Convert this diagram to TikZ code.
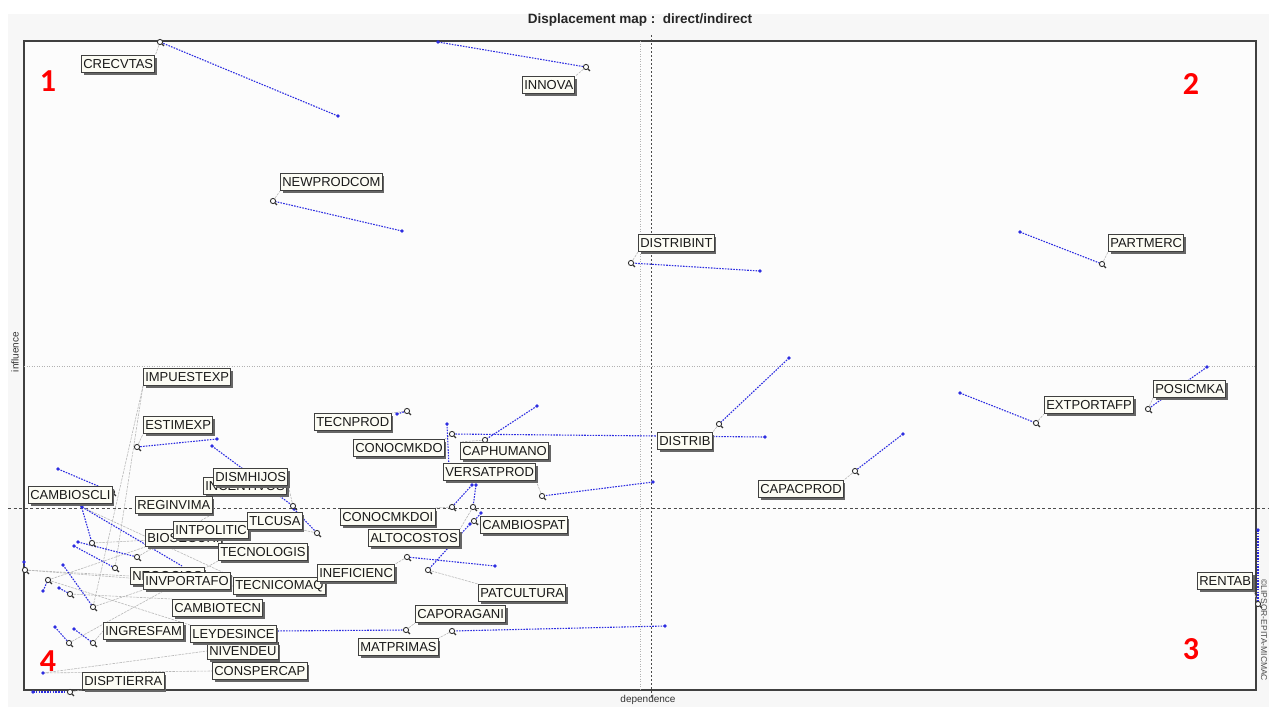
\documentclass[tikz,border=0pt]{standalone}
\usepackage{fontspec}
\setmainfont{Liberation Sans}
\newfontfamily\numfont{Carlito}
\usetikzlibrary{shadows,calc}
\definecolor{lineblue}{RGB}{45,45,225}
\definecolor{boxfill}{RGB}{252,252,244}
\definecolor{plotbg}{RGB}{252,252,252}
\definecolor{outerbg}{RGB}{247,247,247}
\pgfdeclarelayer{bg}
\pgfdeclarelayer{back}
\pgfdeclarelayer{mid}
\pgfsetlayers{bg,back,mid,main}

\tikzset{
  varlabel/.style={draw=black!75, line width=1pt, fill=boxfill, text=black!90,
    font=\fontsize{13}{13}\selectfont, inner xsep=1.8pt, inner ysep=0pt,
    minimum height=17pt, anchor=west,
    drop shadow={shadow xshift=2pt, shadow yshift=-2pt, fill=black!60, opacity=1}},
  shiftline/.style={draw=lineblue, line width=1.1pt, dash pattern=on 1.6pt off 1.2pt},
  leader/.style={draw=black!28, line width=0.6pt, dash pattern=on 2.5pt off 1pt},
  quadnum/.style={text=red, font=\numfont\bfseries\fontsize{32}{32}\selectfont},
  darkguide/.style={draw=black!70, line width=1pt, dash pattern=on 2pt off 2pt},
  lightguide/.style={draw=black!30, line width=0.6pt, dash pattern=on 1pt off 1.5pt}
}

% direct position (dot) -> indirect position (marker)
\newcommand\shiftvar[3]{%
  \coordinate (#1-d) at (#2);
  \coordinate (#1-i) at (#3);
  \draw[shiftline] (#1-d) -- (#1-i);
  \fill[lineblue] (#1-d) circle (1.8);
}
\newcommand\qmark[1]{%
  \draw[black!80, line width=0.9pt, fill=white] (#1) circle (2.6);
  \draw[black!80, line width=1.3pt] ($(#1)+(1.9,1.9)$) -- ++(2,2);
}

\begin{document}
\begin{tikzpicture}[x=1pt,y=-1pt]
\useasboundingbox (0,0) rectangle (1269,707);

% ---------- frame, guides, axis titles ----------
\begin{pgfonlayer}{bg}
  \fill[white] (0,0) rectangle (1269,707);
  \fill[outerbg] (8,14) rectangle (1269,707);
  \draw[black!75, line width=1.5pt, fill=plotbg] (24,41) rectangle (1256,690);
  \draw[lightguide] (640,41) -- (640,690);
  \draw[lightguide] (24,366) -- (1256,366);
  \draw[darkguide] (651,35) -- (651,697);
  \draw[darkguide, dash pattern=on 3pt off 2.5pt] (8,508) -- (1269,508);
\end{pgfonlayer}

\node[font=\bfseries\fontsize{13.5}{13.5}\selectfont, text=black!85] (title) at (640,20) {Displacement map :\ \ direct/indirect};
\node[font=\fontsize{10}{10}\selectfont, text=black!80] (xlab) at (648,700) {dependence};
\node[font=\fontsize{10}{10}\selectfont, text=black!80, rotate=90] (ylab) at (15,352) {influence};
\node[font=\fontsize{8.5}{8.5}\selectfont, text=black!70, rotate=-90, anchor=west] (copy) at (1264,576) {\copyright LIPSOR-EPITA-MICMAC};

\node[quadnum] (q1) at (48,81) {1};
\node[quadnum] (q2) at (1191,84) {2};
\node[quadnum] (q3) at (1191,649) {3};
\node[quadnum] (q4) at (48,661) {4};

% ---------- variable labels ----------
\node[varlabel] (L-CRECVTAS) at (81,64) {CRECVTAS};
\node[varlabel] (L-INNOVA) at (522,85) {INNOVA};
\node[varlabel] (L-NEWPRODCOM) at (280,182) {NEWPRODCOM};
\node[varlabel] (L-DISTRIBINT) at (638,243) {DISTRIBINT};
\node[varlabel] (L-PARTMERC) at (1108,243) {PARTMERC};
\node[varlabel] (L-IMPUESTEXP) at (143,377) {IMPUESTEXP};
\node[varlabel] (L-ESTIMEXP) at (143,425) {ESTIMEXP};
\node[varlabel] (L-TECNPROD) at (314,422) {TECNPROD};
\node[varlabel] (L-CONOCMKDO) at (353,448) {CONOCMKDO};
\node[varlabel] (L-CAPHUMANO) at (460,451) {CAPHUMANO};
\node[varlabel] (L-DISTRIB) at (657,441) {DISTRIB};
\node[varlabel] (L-VERSATPROD) at (443,472) {VERSATPROD};
\node[varlabel] (L-INCENTIVOS) at (203,486) {INCENTIVOS};
\node[varlabel] (L-DISMHIJOS) at (213,477) {DISMHIJOS};
\node[varlabel] (L-CAMBIOSCLI) at (28,495) {CAMBIOSCLI};
\node[varlabel] (L-REGINVIMA) at (135,505) {REGINVIMA};
\node[varlabel] (L-BIOSEGURI) at (145,538) {BIOSEGURI};
\node[varlabel] (L-INTPOLITIC) at (173,530) {INTPOLITIC};
\node[varlabel] (L-TLCUSA) at (247,521) {TLCUSA};
\node[varlabel] (L-TECNOLOGIS) at (218,552) {TECNOLOGIS};
\node[varlabel] (L-NEGOCIOS) at (130,576) {NEGOCIOS};
\node[varlabel] (L-INVPORTAFO) at (143,581) {INVPORTAFO};
\node[varlabel] (L-TECNICOMAQ) at (233,586) {TECNICOMAQ};
\node[varlabel] (L-INEFICIENC) at (317,573) {INEFICIENC};
\node[varlabel] (L-CAMBIOTECN) at (172,608) {CAMBIOTECN};
\node[varlabel] (L-INGRESFAM) at (103,631) {INGRESFAM};
\node[varlabel] (L-NIVENDEU) at (207,651) {NIVENDEU};
\node[varlabel] (L-LEYDESINCE) at (190,634) {LEYDESINCE};
\node[varlabel] (L-CONSPERCAP) at (212,671) {CONSPERCAP};
\node[varlabel] (L-DISPTIERRA) at (82,681) {DISPTIERRA};
\node[varlabel] (L-CONOCMKDOI) at (340,517) {CONOCMKDOI};
\node[varlabel] (L-ALTOCOSTOS) at (368,538) {ALTOCOSTOS};
\node[varlabel] (L-CAMBIOSPAT) at (480,525) {CAMBIOSPAT};
\node[varlabel] (L-PATCULTURA) at (478,593) {PATCULTURA};
\node[varlabel] (L-CAPORAGANI) at (415,614) {CAPORAGANI};
\node[varlabel] (L-MATPRIMAS) at (358,647) {MATPRIMAS};
\node[varlabel] (L-CAPACPROD) at (758,489) {CAPACPROD};
\node[varlabel] (L-EXTPORTAFP) at (1044,405) {EXTPORTAFP};
\node[varlabel] (L-POSICMKA) at (1153,389) {POSICMKA};
\node[varlabel] (L-RENTAB) at (1197,581) {RENTAB};

% ---------- displacements: direct -> indirect ----------
\begin{pgfonlayer}{mid}
  \shiftvar{CRE}{338,116}{160,42}
  \shiftvar{INN}{438,42}{586,67}
  \shiftvar{NEW}{402,231}{273,201}
  \shiftvar{DBI}{760,271}{631,263}
  \shiftvar{PAR}{1020,232}{1102,264}
  \shiftvar{DIS}{789,358}{719,424}
  \shiftvar{CMD}{765,437}{452,434}
  \shiftvar{TPR}{397,414}{407,411}
  \shiftvar{CAH}{537,406}{485,440}
  \shiftvar{VX}{447,424}{449,468}
  \shiftvar{VER}{653,482}{542,496}
  \shiftvar{CMI}{472,485}{452,507}
  \shiftvar{ALT}{476,485}{473,507}
  \shiftvar{CSP}{481,513}{474,521}
  \shiftvar{PAT}{470,524}{428,570}
  \shiftvar{INE}{495,566}{407,557}
  \shiftvar{CAP}{272,631}{406,630}
  \shiftvar{MAT}{665,626}{452,631}
  \shiftvar{CPR}{903,434}{855,471}
  \shiftvar{EXT}{960,393}{1036,423}
  \shiftvar{POS}{1207,367}{1148,409}
  \shiftvar{REN}{1258,530}{1258,604}
  \shiftvar{EST}{217,439}{137,447}
  \shiftvar{DMH}{212,446}{293,506}
  \shiftvar{INC}{294,509}{317,533}
  \shiftvar{CCL}{58,469}{112,492}
  \shiftvar{XB}{81,505}{92,543}
  \shiftvar{XC}{82,507}{182,566}
  \shiftvar{XD}{78,542}{137,557}
  \shiftvar{XE}{74,546}{115,568}
  \shiftvar{XF}{24,562}{25,570}
  \shiftvar{XG}{43,591}{48,580}
  \shiftvar{XH}{63,565}{93,607}
  \shiftvar{XI}{59,588}{70,594}
  \shiftvar{XJ}{55,627}{69,643}
  \shiftvar{XK}{74,629}{93,643}
  \shiftvar{DPT}{33,692}{70,692}
  \coordinate (XL-d) at (43,673);
  \fill[lineblue] (XL-d) circle (1.8);
  \foreach \k in {CRE,INN,NEW,DBI,PAR,DIS,CMD,TPR,CAH,VER,CMI,ALT,CSP,PAT,INE,CAP,MAT,CPR,EXT,POS,REN,EST,DMH,INC,CCL,XB,XD,XE,XF,XG,XH,XI,XJ,XK,DPT}
    {\qmark{\k-i}}
\end{pgfonlayer}

% ---------- leaders from markers to labels ----------
\begin{pgfonlayer}{back}
  \draw[leader] (CRE-i) -- (L-CRECVTAS.north east);
  \draw[leader] (INN-i) -- (L-INNOVA.north east);
  \draw[leader] (NEW-i) -- (L-NEWPRODCOM.south west);
  \draw[leader] (DBI-i) -- (L-DISTRIBINT.south west);
  \draw[leader] (PAR-i) -- (L-PARTMERC.south west);
  \draw[leader] (DIS-i) -- (L-DISTRIB.north east);
  \draw[leader] (CMD-i) -- (L-CONOCMKDO.north east);
  \draw[leader] (TPR-i) -- (L-TECNPROD.north east);
  \draw[leader] (CAH-i) -- (L-CAPHUMANO.north west);
  \draw[leader] (VER-i) -- (L-VERSATPROD.south east);
  \draw[leader] (CMI-i) -- (L-CONOCMKDOI.north east);
  \draw[leader] (ALT-i) -- (L-ALTOCOSTOS.north east);
  \draw[leader] (CSP-i) -- (L-CAMBIOSPAT.west);
  \draw[leader] (PAT-i) -- (L-PATCULTURA.north west);
  \draw[leader] (INE-i) -- (L-INEFICIENC.north east);
  \draw[leader] (CAP-i) -- (L-CAPORAGANI.south west);
  \draw[leader] (MAT-i) -- (L-MATPRIMAS.north east);
  \draw[leader] (CPR-i) -- (L-CAPACPROD.north east);
  \draw[leader] (EXT-i) -- (L-EXTPORTAFP.south west);
  \draw[leader] (POS-i) -- (L-POSICMKA.south west);
  \draw[leader] (REN-i) -- (L-RENTAB.south east);
  \draw[leader] (EST-i) -- (L-ESTIMEXP.south west);
  \draw[leader] (DMH-i) -- (L-DISMHIJOS.south east);
  \draw[leader] (INC-i) -- (L-TLCUSA.south east);
  \draw[leader] (CCL-i) -- (L-CAMBIOSCLI.east);
  \draw[leader] (DPT-i) -- (L-DISPTIERRA.south west);
  \draw[leader] (XE-i) -- (L-IMPUESTEXP.south west);
  \draw[leader] (XH-i) -- (L-IMPUESTEXP.south west);
  \draw[leader] (XD-i) -- (L-REGINVIMA.south east);
  \draw[leader] (XF-i) -- (L-NEGOCIOS.west);
  \draw[leader] (XG-i) -- (L-BIOSEGURI.south west);
  \draw[leader] (XG-i) -- (L-LEYDESINCE.north west);
  \draw[leader] (XI-i) -- (L-CAMBIOTECN.north west);
  \draw[leader] (XH-i) -- (L-INVPORTAFO.south west);
  \draw[leader] (XJ-i) -- (L-TECNOLOGIS.south west);
  \draw[leader] (XK-i) -- (L-INGRESFAM.west);
  \draw[leader] (XL-d) -- (L-CONSPERCAP.west);
  \draw[leader] (XL-d) -- (L-NIVENDEU.west);
  \draw[leader] (XB-i) -- (L-INTPOLITIC.south west);
  \draw[leader] (XC-d) -- (L-TECNICOMAQ.north west);
  \draw[leader] (XF-i) -- (L-TECNICOMAQ.west);
\end{pgfonlayer}
\end{tikzpicture}
\end{document}
